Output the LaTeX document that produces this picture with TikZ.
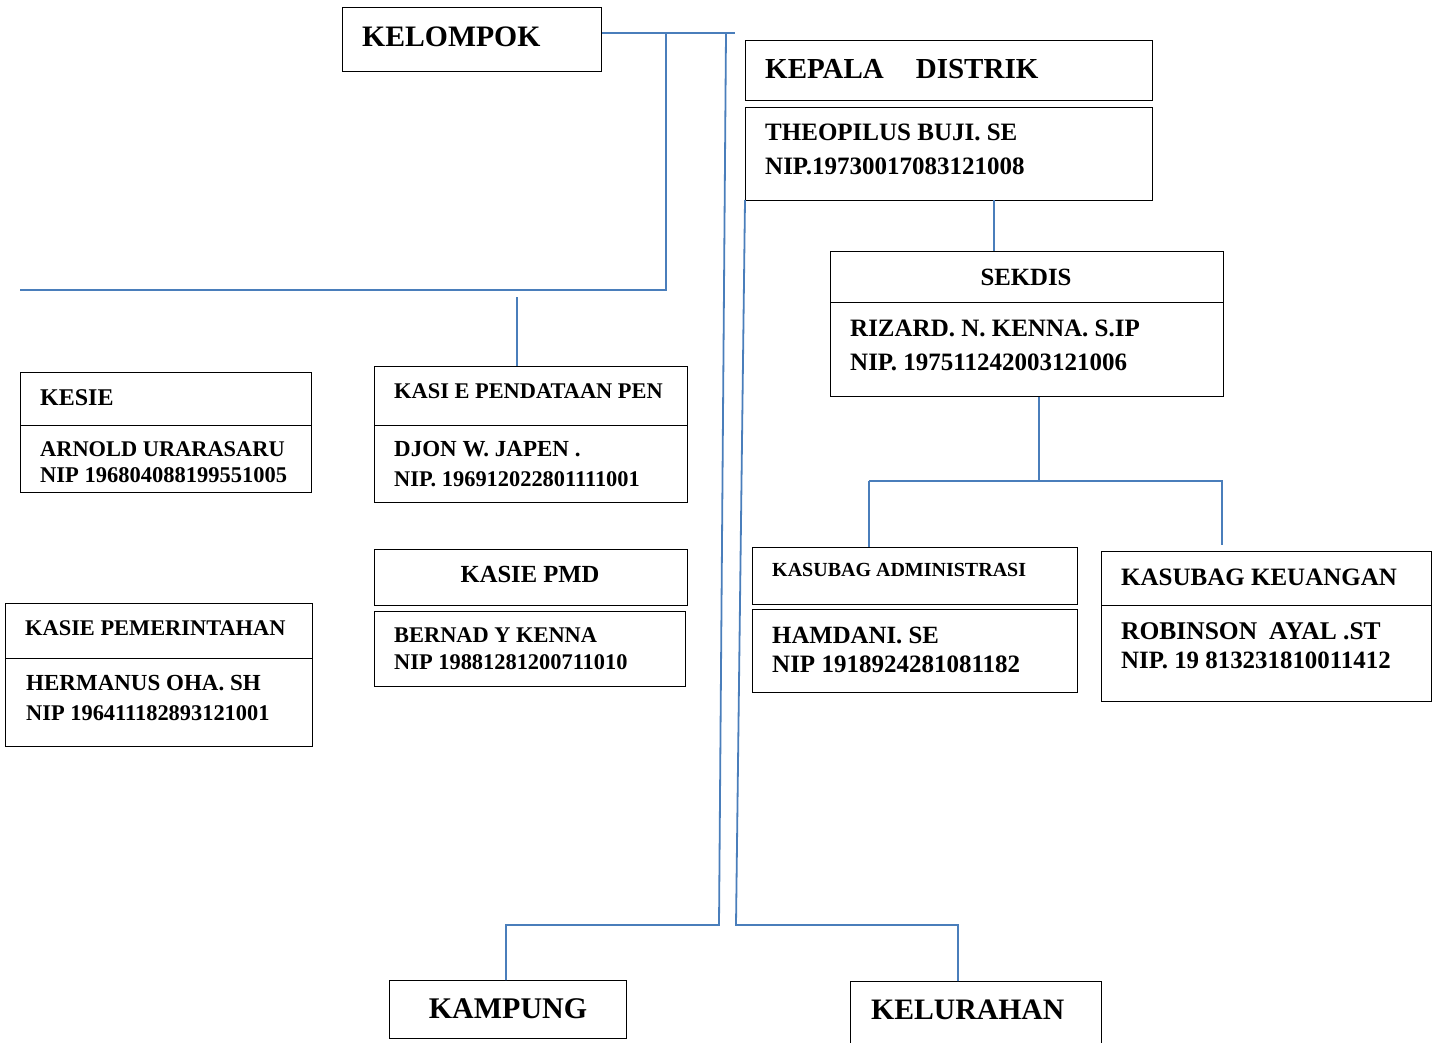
\documentclass[tikz,border=0pt]{standalone}
\usepackage{fontspec}
\setmainfont{Liberation Serif}
\definecolor{lineblue}{RGB}{74,126,187}
\newcommand\fsz[1]{\fontsize{#1}{#1}\selectfont\bfseries}
\begin{document}
\begin{tikzpicture}[x=1pt,y=-1pt,
  box/.style={draw=black,line width=1.3pt,rectangle,inner sep=0pt,anchor=north west},
  lbl/.style={inner sep=0pt,anchor=base west,text=black},
  clbl/.style={inner sep=0pt,anchor=base,text=black},
  conn/.style={draw=lineblue,line width=1.8pt}]
\useasboundingbox (0,0) rectangle (1435,1042);
\clip (0,0) rectangle (1435,1042);
% boxes
\node[box,minimum width=259,minimum height=64] (kel) at (342,7) {};
\node[box,minimum width=407,minimum height=60] (kep) at (745,40) {};
\node[box,minimum width=407,minimum height=93] (theo) at (745,107) {};
\node[box,minimum width=393,minimum height=51] (sekh) at (830,251) {};
\node[box,minimum width=393,minimum height=94] (sekb) at (830,302) {};
\node[box,minimum width=291,minimum height=53] (kesh) at (20,372) {};
\node[box,minimum width=291,minimum height=67] (kesb) at (20,425) {};
\node[box,minimum width=313,minimum height=59] (penh) at (374,366) {};
\node[box,minimum width=313,minimum height=77] (penb) at (374,425) {};
\node[box,minimum width=313,minimum height=56] (pmdh) at (374,549) {};
\node[box,minimum width=311,minimum height=75] (pmdb) at (374,611) {};
\node[box,minimum width=307,minimum height=55] (pemh) at (5,603) {};
\node[box,minimum width=307,minimum height=88] (pemb) at (5,658) {};
\node[box,minimum width=325,minimum height=57] (admh) at (752,547) {};
\node[box,minimum width=325,minimum height=83] (admb) at (752,609) {};
\node[box,minimum width=330,minimum height=54] (keuh) at (1101,551) {};
\node[box,minimum width=330,minimum height=96] (keub) at (1101,605) {};
\node[box,minimum width=237,minimum height=58] (kamp) at (389,980) {};
\node[box,minimum width=251,minimum height=75] (kelu) at (850,981) {};
% texts
\node[lbl] (tkel) at (362,46) {\fsz{29.7}KELOMPOK};
\node[lbl] (tkep) at (765,78) {\fsz{29}KEPALA\hspace{32pt}DISTRIK};
\node[lbl] (tth1) at (765,140) {\fsz{25}THEOPILUS BUJI. SE};
\node[lbl] (tth2) at (765,174) {\fsz{25}NIP.19730017083121008};
\node[clbl] (tsek) at (1026,285) {\fsz{24.8}SEKDIS};
\node[lbl] (tsk1) at (850,336) {\fsz{25}RIZARD. N. KENNA. S.IP};
\node[lbl] (tsk2) at (850,370) {\fsz{25}NIP. 197511242003121006};
\node[lbl] (tkes) at (40,405) {\fsz{24}KESIE};
\node[lbl] (tks1) at (40,456) {\fsz{22.4}ARNOLD URARASARU};
\node[lbl] (tks2) at (40,482) {\fsz{22.5}NIP 196804088199551005};
\node[lbl] (tpen) at (394,398) {\fsz{22.4}KASI E PENDATAAN PEN};
\node[lbl] (tpn1) at (394,456) {\fsz{23}DJON W. JAPEN .};
\node[lbl] (tpn2) at (394,486) {\fsz{22.4}NIP. 196912022801111001};
\node[clbl] (tpmd) at (530,582) {\fsz{24.6}KASIE PMD};
\node[lbl] (tpm1) at (394,642) {\fsz{22.4}BERNAD Y KENNA};
\node[lbl] (tpm2) at (394,669) {\fsz{22.4}NIP 19881281200711010};
\node[lbl] (tpem) at (25,635) {\fsz{22.4}KASIE PEMERINTAHAN};
\node[lbl] (tpe1) at (26,690) {\fsz{23}HERMANUS OHA. SH};
\node[lbl] (tpe2) at (26,720) {\fsz{22.4}NIP 196411182893121001};
\node[lbl] (tadm) at (772,576) {\fsz{20}KASUBAG ADMINISTRASI};
\node[lbl] (tad1) at (772,643) {\fsz{24.8}HAMDANI. SE};
\node[lbl] (tad2) at (772,672) {\fsz{25}NIP 1918924281081182};
\node[lbl] (tkeu) at (1121,585) {\fsz{25}KASUBAG KEUANGAN};
\node[lbl] (tke1) at (1121,639) {\fsz{25.5}ROBINSON\hspace{12pt}AYAL .ST};
\node[lbl] (tke2) at (1121,668) {\fsz{24.9}NIP. 19 813231810011412};
\node[clbl] (tkam) at (508,1018) {\fsz{30}KAMPUNG};
\node[lbl] (tklu) at (871,1019) {\fsz{29.7}KELURAHAN};
% junction coordinates
\coordinate (jtop) at (735,33);
\coordinate (ja) at (666,33);
\coordinate (jb) at (666,290);
\coordinate (jc) at (20,290);
\coordinate (jd) at (517,297);
\coordinate (je) at (726,33);
\coordinate (jf) at (719,925);
\coordinate (jg) at (506,925);
\coordinate (jh) at (745,200);
\coordinate (ji) at (736,925);
\coordinate (jj) at (958,925);
\coordinate (jk) at (994,200);
\coordinate (jl) at (1039,481);
\coordinate (jm) at (869,481);
\coordinate (jn) at (1222,481);
\coordinate (jo) at (1222,545);
% connectors
\draw[conn] (kel.east |- jtop) -- (jtop);
\draw[conn] (ja) -- (jb) -- (jc);
\draw[conn] (jd) -- (jd |- penh.north);
\draw[conn] (je) -- (jf) -- (jg) -- (jg |- kamp.north);
\draw[conn] (jh) -- (ji) -- (jj) -- (jj |- kelu.north);
\draw[conn] (jk) -- (jk |- sekh.north);
\draw[conn] (sekb.south -| jl) -- (jl);
\draw[conn] (jm) -- (jn) -- (jo);
\draw[conn] (jm) -- (jm |- admh.north);
\end{tikzpicture}
\end{document}
